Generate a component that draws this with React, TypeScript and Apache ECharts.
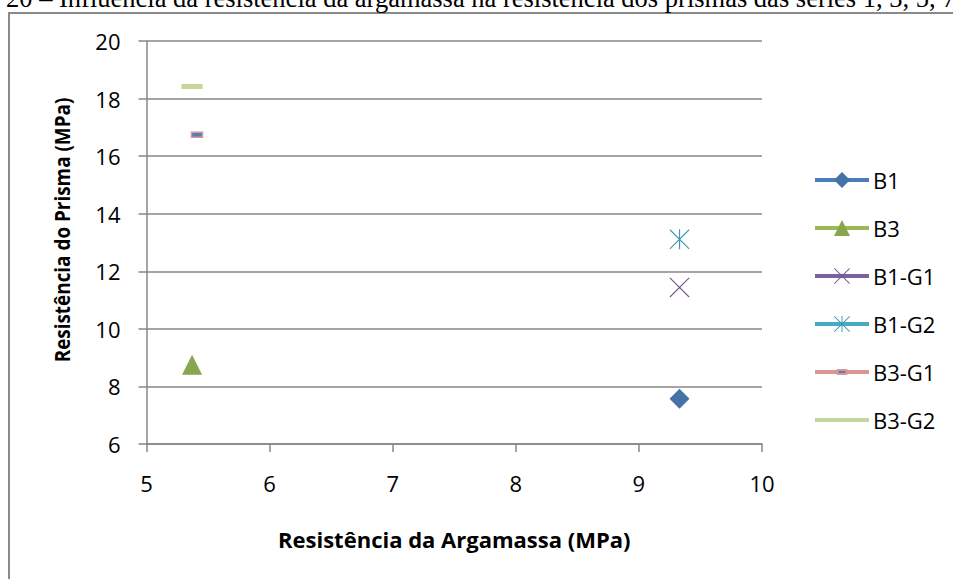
import React, { useEffect, useRef } from "react";
import * as echarts from "echarts";

const seriesNames = ["B1", "B3", "B1-G1", "B1-G2", "B3-G1", "B3-G2"];
const argamassa = [9.33, 5.37, 9.33, 9.33, 5.41, 5.37];
const prisma = [7.57, 8.75, 11.44, 13.11, 16.74, 18.42];
const xTicks = [5, 10, 1];
const yTicks = [6, 20, 2];
const caption =
  "20 – Influência da resistência da argamassa na resistência dos prismas das séries 1, 3, 5, 7";
const xTitle = "Resistência da Argamassa (MPa)";
const yTitle = "Resistência do Prisma (MPa)";

const X_PATH =
  "path://M0 0.8 L0.8 0 L20 19.2 L19.2 20 Z M0.8 20 L0 19.2 L19.2 0 L20 0.8 Z";
const STAR_PATH =
  "path://M0 0.8 L0.8 0 L20 19.2 L19.2 20 Z M0.8 20 L0 19.2 L19.2 0 L20 0.8 Z M9.4 0 L10.6 0 L10.6 20 L9.4 20 Z";
const DASH_SMALL = "path://M0 0 L0 0 Z M20 20 L20 20 Z M4.5 7.5 L15.5 7.5 L15.5 12.5 L4.5 12.5 Z";
const DASH_WIDE = "path://M0 0 L0 0 Z M21 21 L21 21 Z M0 8 L21 8 L21 13 L0 13 Z";

const styles = [
  { symbol: "diamond", size: 20, line: "#4A7EBB", fill: "#4573A7", border: "#4573A7", bw: 0 },
  { symbol: "triangle", size: 20, line: "#98B954", fill: "#89A54E", border: "#89A54E", bw: 0 },
  { symbol: X_PATH, size: 20, line: "#7D60A0", fill: "#71588F", border: "#71588F", bw: 0 },
  { symbol: STAR_PATH, size: 20, line: "#46AAC5", fill: "#4198AF", border: "#4198AF", bw: 0 },
  { symbol: DASH_SMALL, size: 20, line: "#D99694", fill: "#4F81BD", border: "#D99694", bw: 1.5 },
  { symbol: DASH_WIDE, size: 21, line: "#C3D69B", fill: "#C3D69B", border: "#C3D69B", bw: 0 },
];

const FONT = "'Open Sans', sans-serif";

export default function App() {
  const ref = useRef<HTMLDivElement>(null);
  useEffect(() => {
    if (!ref.current) return;
    const chart = echarts.init(ref.current, undefined, { renderer: "svg" });
    const axisColor = "#878787";
    chart.setOption({
      animation: false,
      backgroundColor: "#ffffff",
      grid: { left: 146.5, right: 191, top: 41, bottom: 135 },
      xAxis: {
        type: "value",
        min: xTicks[0],
        max: xTicks[1],
        interval: xTicks[2],
        name: xTitle,
        nameLocation: "middle",
        nameGap: 84,
        nameTextStyle: { fontFamily: FONT, fontSize: 22, fontWeight: "bold", color: "#000" },
        axisLine: { show: true, onZero: false, lineStyle: { color: axisColor, width: 1.5 } },
        axisTick: { show: true, length: 8, lineStyle: { color: axisColor, width: 1.5 } },
        axisLabel: { margin: 28, fontFamily: FONT, fontSize: 22, color: "#000" },
        splitLine: { show: false },
      },
      yAxis: {
        type: "value",
        min: yTicks[0],
        max: yTicks[1],
        interval: yTicks[2],
        axisLine: { show: true, onZero: false, lineStyle: { color: axisColor, width: 1.5 } },
        axisTick: { show: true, length: 8, lineStyle: { color: axisColor, width: 1.5 } },
        axisLabel: { margin: 26, fontFamily: FONT, fontSize: 22, color: "#000" },
        splitLine: { show: true, lineStyle: { color: axisColor, width: 1.5 } },
      },
      legend: {
        orient: "vertical",
        left: 808,
        top: 164,
        itemWidth: 54,
        itemHeight: 20,
        itemGap: 26,
        lineStyle: { width: 4 },
        textStyle: { fontFamily: FONT, fontSize: 22, lineHeight: 20, color: "#000", padding: [0, 0, 0, -1] },
        data: seriesNames,
      },
      graphic: [
        {
          type: "rect",
          z: -10,
          silent: true,
          shape: { x: 9, y: 13, width: 1000, height: 1000 },
          style: { fill: "none", stroke: "#8A8A8A", lineWidth: 2 },
        },
        {
          type: "text",
          x: 6,
          y: 11,
          style: {
            text: caption,
            font: "26.5px 'Liberation Serif', serif",
            fill: "#000",
            textAlign: "left",
            textVerticalAlign: "bottom",
          },
        },
        {
          type: "text",
          x: 62,
          y: 230,
          rotation: Math.PI / 2,
          scaleX: 0.9,
          style: {
            text: yTitle,
            font: "bold 21px 'Open Sans', sans-serif",
            fill: "#000",
            textAlign: "center",
            textVerticalAlign: "middle",
          },
        },
      ],
      series: seriesNames.map((name, i) => ({
        name,
        type: "line",
        data: [[argamassa[i], prisma[i]]],
        symbol: styles[i].symbol,
        symbolSize: styles[i].size,
        showSymbol: true,
        lineStyle: { color: styles[i].line, width: 4 },
        itemStyle: {
          color: styles[i].fill,
          borderColor: styles[i].border,
          borderWidth: styles[i].bw,
        },
      })),
    });
    return () => chart.dispose();
  }, []);
  return (
    <div
      ref={ref}
      style={{ position: "absolute", left: 0, top: 0, width: 953, height: 579, background: "#fff" }}
    />
  );
}
